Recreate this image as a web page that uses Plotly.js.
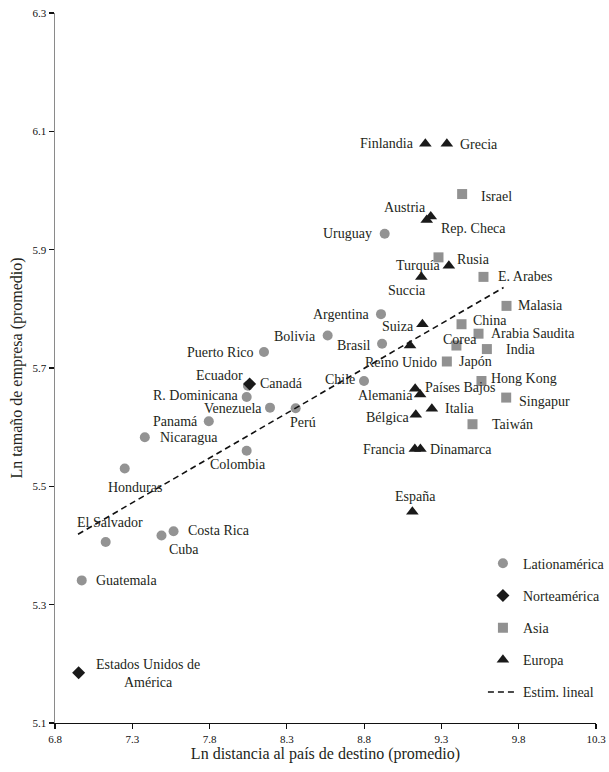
<!DOCTYPE html>
<html>
<head>
<meta charset="utf-8">
<script src="https://cdn.plot.ly/plotly-3.0.1.min.js"></script>
<style>html,body{margin:0;padding:0;background:#fff;}#chart{width:609px;height:772px;}</style>
</head>
<body>
<div id="chart"></div>
<script>
// ---- Data ----
const latinNames = ["Uruguay","Argentina","Bolivia","Brasil","Puerto Rico","Chile","Ecuador","R. Dominicana","Venezuela","Perú","Panamá","Nicaragua","Colombia","Honduras","El Salvador","Cuba","Costa Rica","Guatemala"];
const latinX = [8.933,8.909,8.564,8.916,8.152,8.799,8.048,8.040,8.191,8.357,7.795,7.381,8.040,7.251,7.128,7.489,7.567,6.973];
const latinY = [5.927,5.791,5.755,5.741,5.727,5.678,5.670,5.651,5.633,5.632,5.610,5.583,5.560,5.530,5.406,5.417,5.424,5.341];

const northNames = ["Canadá","Estados Unidos de<br>América"];
const northX = [8.059,6.953];
const northY = [5.673,5.185];

const asiaNames = ["Israel","Turquía","E. Arabes","Malasia","China","Arabia Saudita","Corea","India","Japón","Hong Kong","Singapur","Taiwán"];
const asiaX = [9.434,9.281,9.572,9.721,9.430,9.540,9.397,9.594,9.335,9.559,9.719,9.501];
const asiaY = [5.994,5.887,5.854,5.805,5.774,5.758,5.738,5.732,5.711,5.678,5.650,5.605];

const europeNames = ["Finlandia","Grecia","Austria","Rep. Checa","Rusia","Succia","Suiza","Reino Unido","Países Bajos","Alemania","Italia","Bélgica","Francia","Dinamarca","España"];
const europeX = [9.196,9.335,9.231,9.205,9.348,9.170,9.177,9.097,9.130,9.162,9.238,9.134,9.128,9.164,9.112];
const europeY = [6.079,6.079,5.956,5.950,5.873,5.854,5.774,5.738,5.665,5.655,5.631,5.621,5.563,5.563,5.457];

const fitX = [6.949,9.702];
const fitY = [5.419,5.836];

const xTicks = [6.8,7.3,7.8,8.3,8.8,9.3,9.8,10.3];
const yTicks = [5.1,5.3,5.5,5.7,5.9,6.1,6.3];

// ---- Label placement (pixel offsets from each point) ----
const place = {
  "Finlandia":["right",-9,0],"Grecia":["left",11,1],"Israel":["left",17,2],
  "Austria":["right",-3,-9],"Rep. Checa":["left",12,8],"Uruguay":["right",-11,0],
  "Turquía":["right",5,8],"Rusia":["left",6,-6],"Succia":["center",-14,14],
  "E. Arabes":["left",13,0],"Malasia":["left",9,0],"Argentina":["right",-9,0],
  "Suiza":["right",-6,2],"China":["left",9,-4],"Arabia Saudita":["left",10,0],
  "Bolivia":["right",-10,1],"Brasil":["right",-9,2],"Corea":["center",4,-6],
  "India":["left",17,0],"Puerto Rico":["right",-8,0],"Reino Unido":["center",-9,17],
  "Japón":["left",10,0],"Ecuador":["right",-3,-10],"Canadá":["left",8,0],
  "Chile":["right",-7,-2],"Hong Kong":["left",8,-3],"R. Dominicana":["right",-6,-1],
  "Países Bajos":["left",8,-1],"Alemania":["right",-5,1],"Singapur":["left",11,4],
  "Venezuela":["right",-6,1],"Perú":["center",7,14],"Italia":["left",11,0],
  "Panamá":["right",-9,0],"Bélgica":["right",-4,3],"Taiwán":["left",17,0],
  "Nicaragua":["left",13,0],"Francia":["right",-7,0],"Dinamarca":["left",8,0],
  "Colombia":["center",-9,14],"Honduras":["center",10,19],"España":["center",3,-15],
  "El Salvador":["center",4,-19],"Costa Rica":["left",12,-1],"Cuba":["center",22,14],
  "Guatemala":["left",12,0],"Estados Unidos de<br>América":["center",69,1]
};

const FONT = "'Liberation Serif', 'Times New Roman', serif";
const annotations = [];
function addLabels(names, xs, ys){
  names.forEach((n,i)=>{
    const p = place[n] || ["left",8,0];
    annotations.push({
      x: xs[i], y: ys[i], xref:"x", yref:"y", text:n, showarrow:false,
      xanchor:p[0], yanchor:"middle", xshift:p[1], yshift:-p[2], align:"center",
      font:{family:FONT,size:14,color:"#231f20"}
    });
  });
}
addLabels(latinNames, latinX, latinY);
addLabels(northNames, northX, northY);
addLabels(asiaNames, asiaX, asiaY);
addLabels(europeNames, europeX, europeY);

const traces = [
  {x:latinX,y:latinY,type:"scatter",mode:"markers",name:"Lationamérica",legendgroup:"a",
   marker:{symbol:"circle",size:10,color:"#939393"},hoverinfo:"skip"},
  {x:northX,y:northY,type:"scatter",mode:"markers",name:"Norteamérica",legendgroup:"b",
   marker:{symbol:"diamond",size:10,color:"#1a1a1a"},hoverinfo:"skip"},
  {x:asiaX,y:asiaY,type:"scatter",mode:"markers",name:"Asia",legendgroup:"c",
   marker:{symbol:"square",size:10,color:"#919191"},hoverinfo:"skip"},
  {x:europeX,y:europeY,type:"scatter",mode:"markers",name:"Europa",legendgroup:"d",
   marker:{symbol:"triangle-up",size:11,color:"#1a1a1a"},hoverinfo:"skip"},
  {x:fitX,y:fitY,type:"scatter",mode:"lines",name:"Estim. lineal",legendgroup:"e",
   line:{color:"#111",width:1.6,dash:"6px,4px"},hoverinfo:"skip"}
];

const layout = {
  width:609, height:772,
  margin:{l:55,r:13,t:13,b:49,autoexpand:false},
  paper_bgcolor:"#fff", plot_bgcolor:"#fff",
  font:{family:FONT,color:"#231f20"},
  showlegend:true,
  legend:{x:0.791,y:0.247,xanchor:"left",yanchor:"top",traceorder:"grouped",
    tracegroupgap:11,font:{family:FONT,size:14,color:"#231f20"},bgcolor:"rgba(0,0,0,0)"},
  xaxis:{range:[6.8,10.3],tickvals:xTicks,ticktext:xTicks.map(v=>v.toFixed(1)),
    showgrid:false,zeroline:false,showline:true,linecolor:"#111",linewidth:1.3,
    ticks:"outside",ticklen:5,tickcolor:"#111",tickwidth:1.2,
    tickfont:{family:FONT,size:11,color:"#111"},
    title:{text:"Ln distancia al país de destino (promedio)",font:{family:FONT,size:16,color:"#231f20"},standoff:4}},
  yaxis:{range:[5.1,6.3],tickvals:yTicks,ticktext:yTicks.map(v=>v.toFixed(1)),
    showgrid:false,zeroline:false,showline:true,linecolor:"#8a8a8a",linewidth:1.5,
    ticks:"outside",ticklen:5,tickcolor:"#111",tickwidth:1.2,
    tickfont:{family:FONT,size:11,color:"#111"},
    title:{text:"Ln tamaño de empresa (promedio)",font:{family:FONT,size:16,color:"#231f20"},standoff:6}},
  annotations:annotations
};

Plotly.newPlot("chart", traces, layout, {displayModeBar:false, staticPlot:true});
</script>
</body>
</html>
